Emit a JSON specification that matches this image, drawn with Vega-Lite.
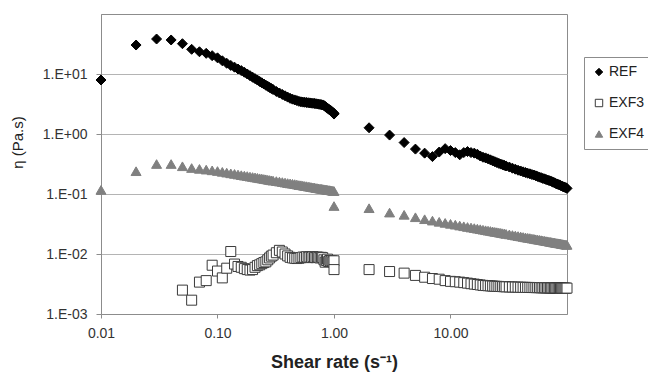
{
  "$schema": "https://vega.github.io/schema/vega-lite/v6.json",
  "width": 466,
  "height": 300,
  "autosize": "none",
  "padding": {"left": 101, "top": 14, "right": 81, "bottom": 59},
  "background": "white",
  "config": {
    "font": "Liberation Sans",
    "view": {"stroke": "#8c8c8c", "strokeWidth": 1}
  },
  "data": {
    "values": [
      {"x":0.01,"REF":7.94,"EXF4":0.117},
      {"x":0.02,"REF":30.4,"EXF4":0.24},
      {"x":0.03,"REF":38.3,"EXF4":0.316},
      {"x":0.04,"REF":36.9,"EXF4":0.316},
      {"x":0.05,"REF":32.0,"EXF3":0.0025,"EXF4":0.29},
      {"x":0.06,"REF":25.8,"EXF3":0.0017,"EXF4":0.271},
      {"x":0.07,"REF":23.5,"EXF3":0.0034,"EXF4":0.262},
      {"x":0.08,"REF":22.1,"EXF3":0.0036,"EXF4":0.255},
      {"x":0.09,"REF":20.2,"EXF3":0.0065,"EXF4":0.248},
      {"x":0.10,"REF":18.6,"EXF3":0.0052,"EXF4":0.2415},
      {"x":0.11,"REF":16.6,"EXF3":0.0040,"EXF4":0.234},
      {"x":0.12,"REF":15.1,"EXF3":0.0058,"EXF4":0.227},
      {"x":0.13,"REF":13.9,"EXF3":0.0110,"EXF4":0.221},
      {"x":0.14,"REF":13.0,"EXF3":0.0068,"EXF4":0.216},
      {"x":0.15,"REF":12.1,"EXF3":0.0062,"EXF4":0.211},
      {"x":0.16,"REF":11.4,"EXF3":0.0060,"EXF4":0.206},
      {"x":0.17,"REF":10.7,"EXF3":0.0057,"EXF4":0.202},
      {"x":0.18,"REF":10.0,"EXF3":0.0055,"EXF4":0.199},
      {"x":0.19,"REF":9.38,"EXF3":0.0054,"EXF4":0.195},
      {"x":0.20,"REF":8.85,"EXF3":0.0055,"EXF4":0.192},
      {"x":0.21,"REF":8.36,"EXF3":0.0060,"EXF4":0.189},
      {"x":0.22,"REF":7.92,"EXF3":0.0064,"EXF4":0.186},
      {"x":0.23,"REF":7.50,"EXF3":0.0066,"EXF4":0.183},
      {"x":0.24,"REF":7.14,"EXF3":0.0069,"EXF4":0.181},
      {"x":0.25,"REF":6.81,"EXF3":0.0072,"EXF4":0.178},
      {"x":0.26,"REF":6.50,"EXF3":0.0074,"EXF4":0.176},
      {"x":0.27,"REF":6.23,"EXF3":0.0080,"EXF4":0.173},
      {"x":0.28,"REF":5.97,"EXF3":0.0086,"EXF4":0.171},
      {"x":0.29,"REF":5.73,"EXF3":0.0092,"EXF4":0.169},
      {"x":0.30,"REF":5.51,"EXF3":0.0096,"EXF4":0.167},
      {"x":0.32,"REF":5.11,"EXF3":0.0105,"EXF4":0.164},
      {"x":0.34,"REF":4.82,"EXF3":0.0115,"EXF4":0.161},
      {"x":0.36,"REF":4.56,"EXF3":0.0108,"EXF4":0.158},
      {"x":0.38,"REF":4.33,"EXF3":0.0100,"EXF4":0.155},
      {"x":0.40,"REF":4.12,"EXF3":0.0093,"EXF4":0.152},
      {"x":0.42,"REF":3.93,"EXF3":0.0088,"EXF4":0.150},
      {"x":0.44,"REF":3.81,"EXF3":0.0086,"EXF4":0.148},
      {"x":0.46,"REF":3.70,"EXF3":0.0085,"EXF4":0.146},
      {"x":0.48,"REF":3.60,"EXF3":0.0084,"EXF4":0.144},
      {"x":0.50,"REF":3.50,"EXF3":0.0085,"EXF4":0.141},
      {"x":0.52,"REF":3.44,"EXF3":0.0087,"EXF4":0.140},
      {"x":0.54,"REF":3.40,"EXF3":0.0089,"EXF4":0.138},
      {"x":0.56,"REF":3.38,"EXF3":0.0088,"EXF4":0.136},
      {"x":0.58,"REF":3.35,"EXF3":0.0090,"EXF4":0.135},
      {"x":0.60,"REF":3.32,"EXF3":0.0087,"EXF4":0.133},
      {"x":0.62,"REF":3.30,"EXF3":0.0089,"EXF4":0.132},
      {"x":0.64,"REF":3.27,"EXF3":0.0088,"EXF4":0.130},
      {"x":0.66,"REF":3.25,"EXF3":0.0090,"EXF4":0.129},
      {"x":0.68,"REF":3.23,"EXF3":0.0088,"EXF4":0.128},
      {"x":0.70,"REF":3.20,"EXF3":0.0087,"EXF4":0.126},
      {"x":0.72,"REF":3.17,"EXF3":0.0089,"EXF4":0.125},
      {"x":0.74,"REF":3.14,"EXF3":0.0088,"EXF4":0.124},
      {"x":0.76,"REF":3.11,"EXF3":0.0086,"EXF4":0.123},
      {"x":0.78,"REF":3.08,"EXF3":0.0088,"EXF4":0.122},
      {"x":0.80,"REF":3.05,"EXF3":0.0087,"EXF4":0.121},
      {"x":0.82,"REF":2.98,"EXF3":0.0080,"EXF4":0.120},
      {"x":0.84,"REF":2.88,"EXF3":0.0073,"EXF4":0.119},
      {"x":0.86,"REF":2.78,"EXF3":0.0078,"EXF4":0.118},
      {"x":0.88,"REF":2.69,"EXF3":0.0082,"EXF4":0.117},
      {"x":0.90,"REF":2.60,"EXF3":0.0075,"EXF4":0.116},
      {"x":0.92,"REF":2.51,"EXF3":0.0078,"EXF4":0.116},
      {"x":0.94,"REF":2.44,"EXF3":0.0076,"EXF4":0.115},
      {"x":0.96,"REF":2.36,"EXF3":0.0077,"EXF4":0.114},
      {"x":0.98,"REF":2.28,"EXF3":0.0074,"EXF4":0.113},
      {"x":1.00,"REF":2.21,"EXF3":0.0077,"EXF4":0.112},
      {"x":1,"REF":2.15,"EXF3":0.0055,"EXF4":0.063},
      {"x":2,"REF":1.27,"EXF3":0.0055,"EXF4":0.058},
      {"x":3,"REF":0.96,"EXF3":0.0051,"EXF4":0.049},
      {"x":4,"REF":0.72,"EXF3":0.0048,"EXF4":0.045},
      {"x":5,"REF":0.56,"EXF3":0.0044,"EXF4":0.041},
      {"x":6,"REF":0.48,"EXF3":0.0041,"EXF4":0.038},
      {"x":7,"REF":0.42,"EXF3":0.0039,"EXF4":0.036},
      {"x":8,"REF":0.50,"EXF3":0.0038,"EXF4":0.0344},
      {"x":9,"REF":0.57,"EXF3":0.0036,"EXF4":0.0330},
      {"x":10,"REF":0.53,"EXF3":0.0035,"EXF4":0.0318},
      {"x":11,"REF":0.49,"EXF3":0.00345,"EXF4":0.0308},
      {"x":12,"REF":0.45,"EXF3":0.0034,"EXF4":0.0298},
      {"x":13,"REF":0.49,"EXF3":0.00333,"EXF4":0.0290},
      {"x":14,"REF":0.51,"EXF3":0.00327,"EXF4":0.0282},
      {"x":15,"REF":0.49,"EXF3":0.0032,"EXF4":0.0276},
      {"x":16,"REF":0.48,"EXF3":0.00315,"EXF4":0.0270},
      {"x":17,"REF":0.46,"EXF3":0.0031,"EXF4":0.0264},
      {"x":18,"REF":0.43,"EXF3":0.00305,"EXF4":0.0259},
      {"x":19,"REF":0.41,"EXF3":0.0030,"EXF4":0.0254},
      {"x":20,"REF":0.40,"EXF3":0.00298,"EXF4":0.0249},
      {"x":21,"REF":0.385,"EXF3":0.00296,"EXF4":0.0245},
      {"x":22,"REF":0.371,"EXF3":0.00294,"EXF4":0.0242},
      {"x":23,"REF":0.357,"EXF3":0.00292,"EXF4":0.0238},
      {"x":24,"REF":0.346,"EXF3":0.0029,"EXF4":0.0234},
      {"x":25,"REF":0.334,"EXF3":0.00289,"EXF4":0.0231},
      {"x":26,"REF":0.324,"EXF3":0.00288,"EXF4":0.0228},
      {"x":27,"REF":0.315,"EXF3":0.00287,"EXF4":0.0225},
      {"x":28,"REF":0.307,"EXF3":0.00286,"EXF4":0.0222},
      {"x":29,"REF":0.300,"EXF3":0.00285,"EXF4":0.0219},
      {"x":30,"REF":0.293,"EXF3":0.00284,"EXF4":0.0216},
      {"x":32,"REF":0.281,"EXF3":0.00283,"EXF4":0.0212},
      {"x":34,"REF":0.269,"EXF3":0.00282,"EXF4":0.0207},
      {"x":36,"REF":0.259,"EXF3":0.00281,"EXF4":0.0203},
      {"x":38,"REF":0.249,"EXF3":0.0028,"EXF4":0.0199},
      {"x":40,"REF":0.242,"EXF3":0.00279,"EXF4":0.0196},
      {"x":42,"REF":0.234,"EXF3":0.00278,"EXF4":0.0192},
      {"x":44,"REF":0.228,"EXF3":0.00278,"EXF4":0.0189},
      {"x":46,"REF":0.222,"EXF3":0.00277,"EXF4":0.0186},
      {"x":48,"REF":0.217,"EXF3":0.00277,"EXF4":0.0184},
      {"x":50,"REF":0.211,"EXF3":0.00276,"EXF4":0.0181},
      {"x":52,"REF":0.207,"EXF3":0.00276,"EXF4":0.0179},
      {"x":54,"REF":0.201,"EXF3":0.00275,"EXF4":0.0176},
      {"x":56,"REF":0.196,"EXF3":0.00275,"EXF4":0.0174},
      {"x":58,"REF":0.191,"EXF3":0.00275,"EXF4":0.0172},
      {"x":60,"REF":0.187,"EXF3":0.00274,"EXF4":0.0170},
      {"x":62,"REF":0.182,"EXF3":0.00274,"EXF4":0.0168},
      {"x":64,"REF":0.179,"EXF3":0.00274,"EXF4":0.0166},
      {"x":66,"REF":0.175,"EXF3":0.00273,"EXF4":0.0164},
      {"x":68,"REF":0.171,"EXF3":0.00273,"EXF4":0.0163},
      {"x":70,"REF":0.168,"EXF3":0.00273,"EXF4":0.0161},
      {"x":72,"REF":0.165,"EXF3":0.00272,"EXF4":0.0159},
      {"x":74,"REF":0.161,"EXF3":0.00272,"EXF4":0.0158},
      {"x":76,"REF":0.157,"EXF3":0.00272,"EXF4":0.0156},
      {"x":78,"REF":0.154,"EXF3":0.00272,"EXF4":0.0155},
      {"x":80,"REF":0.150,"EXF3":0.00271,"EXF4":0.0153},
      {"x":82,"REF":0.147,"EXF3":0.00271,"EXF4":0.0152},
      {"x":84,"REF":0.144,"EXF3":0.00271,"EXF4":0.0151},
      {"x":86,"REF":0.142,"EXF3":0.00271,"EXF4":0.0150},
      {"x":88,"REF":0.139,"EXF3":0.0027,"EXF4":0.0149},
      {"x":90,"REF":0.136,"EXF3":0.0027,"EXF4":0.0147},
      {"x":92,"REF":0.133,"EXF3":0.0027,"EXF4":0.0146},
      {"x":94,"REF":0.131,"EXF3":0.0027,"EXF4":0.0145},
      {"x":96,"REF":0.129,"EXF3":0.0027,"EXF4":0.0144},
      {"x":98,"REF":0.127,"EXF3":0.0027,"EXF4":0.0143},
      {"x":100,"REF":0.124,"EXF3":0.0027,"EXF4":0.0142}
    ]
  },
  "transform": [
    {"fold": ["REF", "EXF3", "EXF4"], "as": ["series", "eta"]},
    {"filter": "isValid(datum.eta)"}
  ],
  "mark": {"type": "point", "filled": true, "strokeWidth": 1, "opacity": 1, "size": 100},
  "encoding": {
    "x": {
      "field": "x", "type": "quantitative",
      "scale": {"type": "log", "domain": [0.01, 100], "nice": false},
      "axis": {
        "title": "Shear rate (s⁻¹)",
        "values": [0.01, 0.1, 1, 10],
        "format": ".2f",
        "grid": false,
        "domainColor": "#8c8c8c",
        "tickColor": "#8c8c8c",
        "tickSize": 4,
        "labelPadding": 8,
        "labelFontSize": 14,
        "labelColor": "#333333",
        "labelFlush": false,
        "titleFontSize": 18,
        "titleFontWeight": "bold",
        "titleColor": "#222222",
        "titleX": 233,
        "titleY": 53,
        "titleBaseline": "alphabetic"
      }
    },
    "y": {
      "field": "eta", "type": "quantitative",
      "scale": {"type": "log", "domain": [0.001, 100], "nice": false},
      "axis": {
        "title": "η (Pa.s)",
        "values": [0.001, 0.01, 0.1, 1, 10],
        "labelExpr": "datum.value >= 1 ? '1.E+0' + round(log(datum.value)/LN10) : '1.E-0' + round(-log(datum.value)/LN10)",
        "grid": true,
        "gridColor": "#b4b4b4",
        "gridWidth": 1,
        "domainColor": "#8c8c8c",
        "tickColor": "#8c8c8c",
        "tickSize": 5,
        "labelPadding": 9,
        "labelFontSize": 14,
        "labelColor": "#333333",
        "titleFontSize": 15,
        "titleFontWeight": "normal",
        "titleColor": "#222222",
        "titleX": -79,
        "titleY": 128,
        "titleBaseline": "alphabetic",
        "titleAlign": "center"
      }
    },
    "shape": {
      "field": "series", "type": "nominal",
      "scale": {"domain": ["REF", "EXF3", "EXF4"], "range": ["diamond", "square", "triangle-up"]},
      "legend": {
        "title": null,
        "orient": "none",
        "legendX": 483,
        "legendY": 43,
        "padding": 8,
        "strokeColor": "#8c8c8c",
        "fillColor": "white",
        "labelFontSize": 14,
        "labelColor": "#222222",
        "symbolSize": 55,
        "rowPadding": 17,
        "labelOffset": 3,
        "symbolStrokeWidth": 1
      }
    },
    "fill": {
      "field": "series", "type": "nominal",
      "scale": {"domain": ["REF", "EXF3", "EXF4"], "range": ["#000000", "#ffffff", "#808080"]}
    },
    "stroke": {
      "field": "series", "type": "nominal",
      "scale": {"domain": ["REF", "EXF3", "EXF4"], "range": ["#000000", "#3a3a3a", "#808080"]}
    }
  }
}
